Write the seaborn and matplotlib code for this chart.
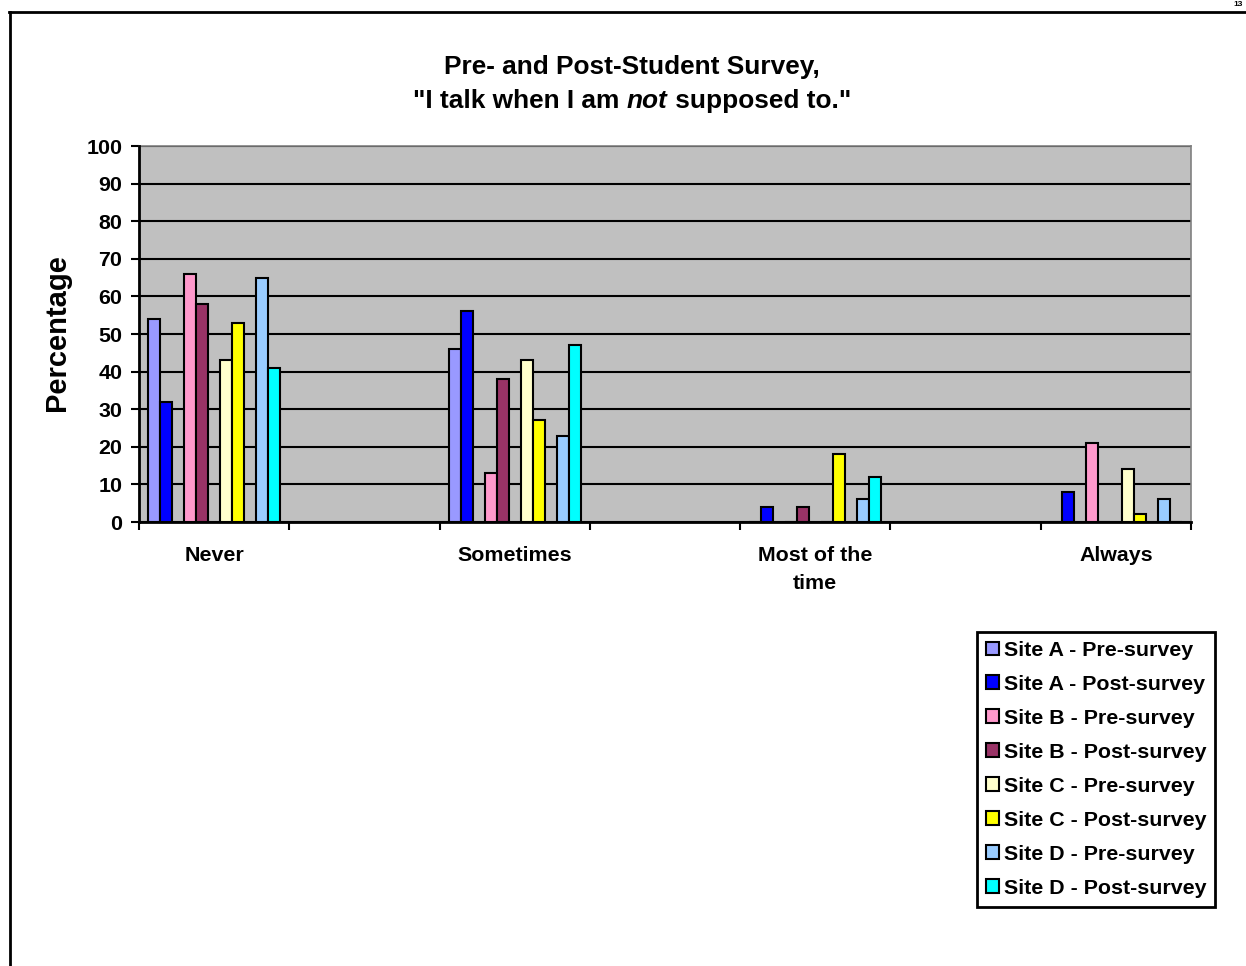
import matplotlib
matplotlib.use("Agg")
import matplotlib.pyplot as plt
from matplotlib.patches import Patch
from matplotlib.lines import Line2D
import numpy as np
import pandas as pd
import seaborn as sns

# Response categories (blank slots keep the wide spacing between groups)
categories = ["Never", "Sometimes", "Most of the\ntime", "Always"]
category_slots = ["Never", " ", "Sometimes", "  ", "Most of the\ntime", "   ", "Always"]

series = ["Site A - Pre-survey", "Site A - Post-survey",
          "Site B - Pre-survey", "Site B - Post-survey",
          "Site C - Pre-survey", "Site C - Post-survey",
          "Site D - Pre-survey", "Site D - Post-survey"]
# hue slots with empty spacers between the site pairs
series_slots = [series[0], series[1], "_gap1",
                series[2], series[3], "_gap2",
                series[4], series[5], "_gap3",
                series[6], series[7]]

site_a_pre = [54, 46, 0, 0]
site_a_post = [32, 56, 4, 8]
site_b_pre = [66, 13, 0, 21]
site_b_post = [58, 38, 4, 0]
site_c_pre = [43, 43, 0, 14]
site_c_post = [53, 27, 18, 2]
site_d_pre = [65, 23, 6, 6]
site_d_post = [41, 47, 12, 0]

colors = ["#9999FF", "#0000FF", "#FF99CC", "#993366",
          "#FFFFCC", "#FFFF00", "#99CCFF", "#00FFFF"]

yticks = list(range(0, 101, 10))

values = [site_a_pre, site_a_post, site_b_pre, site_b_post,
          site_c_pre, site_c_post, site_d_pre, site_d_post]
rows = []
for name, vals in zip(series, values):
    for cat, v in zip(categories, vals):
        rows.append({"Response": cat, "Series": name, "Percentage": v})
df = pd.DataFrame(rows)

palette = {name: c for name, c in zip(series, colors)}
for g in ["_gap1", "_gap2", "_gap3"]:
    palette[g] = "#C0C0C0"

FONT = "Liberation Sans"
plt.rcParams["font.family"] = [FONT, "DejaVu Sans"]
plt.rcParams["font.weight"] = "bold"

W, H = 1246, 966
fig = plt.figure(figsize=(W / 100, H / 100), dpi=100)
fig.patch.set_facecolor("white")

x0, x1, y0, y1 = 139, 1191, 146, 522
ax = fig.add_axes([x0 / W, 1 - y1 / H, (x1 - x0) / W, (y1 - y0) / H])
ax.set_facecolor("#C0C0C0")

sns.barplot(data=df, x="Response", y="Percentage", hue="Series",
            order=category_slots, hue_order=series_slots, palette=palette,
            saturation=1, width=0.88, errorbar=None, edgecolor="black",
            linewidth=1.5, legend=False, ax=ax, zorder=3)

ax.set_ylim(0, 100)
ax.set_xlim(-0.5, len(category_slots) - 0.5)
ax.set_yticks(yticks)
ax.set_yticklabels([str(t) for t in yticks], fontsize=15.4, fontweight="bold")
ax.yaxis.grid(True, color="black", linewidth=1.5, zorder=1)
ax.set_axisbelow(True)
ax.tick_params(axis="y", direction="out", length=6, width=1.5, pad=6, color="black")

# category labels at slot centres, tick marks at slot boundaries
label_pos = [category_slots.index(c) for c in categories]
ax.set_xticks(label_pos)
ax.set_xticklabels(categories, fontsize=15.4, fontweight="bold", linespacing=1.6)
ax.set_xticks(np.arange(-0.5, len(category_slots), 1.0), minor=True)
ax.tick_params(axis="x", which="major", length=0, pad=17)
ax.tick_params(axis="x", which="minor", direction="out", length=6, width=1.5, color="black")
ax.set_xlabel("")
ax.set_ylabel("")

for side in ["left", "bottom"]:
    ax.spines[side].set_color("black")
    ax.spines[side].set_linewidth(2)
    ax.spines[side].set_zorder(5)
for side in ["top", "right"]:
    ax.spines[side].set_color("#808080")
    ax.spines[side].set_linewidth(1.2)

# y-axis title
fig.text(57 / W, 1 - 333 / H, "Percentage", rotation=90, ha="center", va="center",
         fontsize=21, fontweight="bold")

# chart title, second line has an italic word
title_size = 18.9
fig.text(632 / W, 1 - 74 / H, "Pre- and Post-Student Survey,", ha="center",
         va="baseline", fontsize=title_size, fontweight="bold")
parts = [('"I talk when I am ', "normal"), ("not", "italic"), (" supposed to.\"", "normal")]
texts = [fig.text(0, 1 - 108 / H, s, ha="left", va="baseline", fontsize=title_size,
                  fontweight="bold", fontstyle=st) for s, st in parts]
fig.canvas.draw()
renderer = fig.canvas.get_renderer()
widths = [t.get_window_extent(renderer).width for t in texts]
start = 632 - sum(widths) / 2
for t, w in zip(texts, widths):
    t.set_x(start / W)
    start += w

# legend
handles = [Patch(facecolor=c, edgecolor="black", linewidth=1.5) for c in colors]
leg = fig.legend(handles, series, loc="upper left",
                 bbox_to_anchor=(977 / W, 1 - 632 / H),
                 prop={"family": FONT, "weight": "bold", "size": 15.4},
                 frameon=True, fancybox=False, framealpha=1, edgecolor="black",
                 handlelength=0.62, handleheight=0.62, handletextpad=0.22,
                 labelspacing=0.7, borderpad=0.42, borderaxespad=0)
leg.get_frame().set_linewidth(2)

# page frame and page number
fig.add_artist(Line2D([9 / W, 1], [1 - 12 / H, 1 - 12 / H], color="black", linewidth=2,
                      transform=fig.transFigure))
fig.add_artist(Line2D([10 / W, 10 / W], [1 - 12 / H, 0], color="black", linewidth=2,
                      transform=fig.transFigure))
fig.text(1243 / W, 1 - 1 / H, "13", ha="right", va="top", fontsize=6, fontweight="bold")

fig.savefig("out.png", dpi=100)
